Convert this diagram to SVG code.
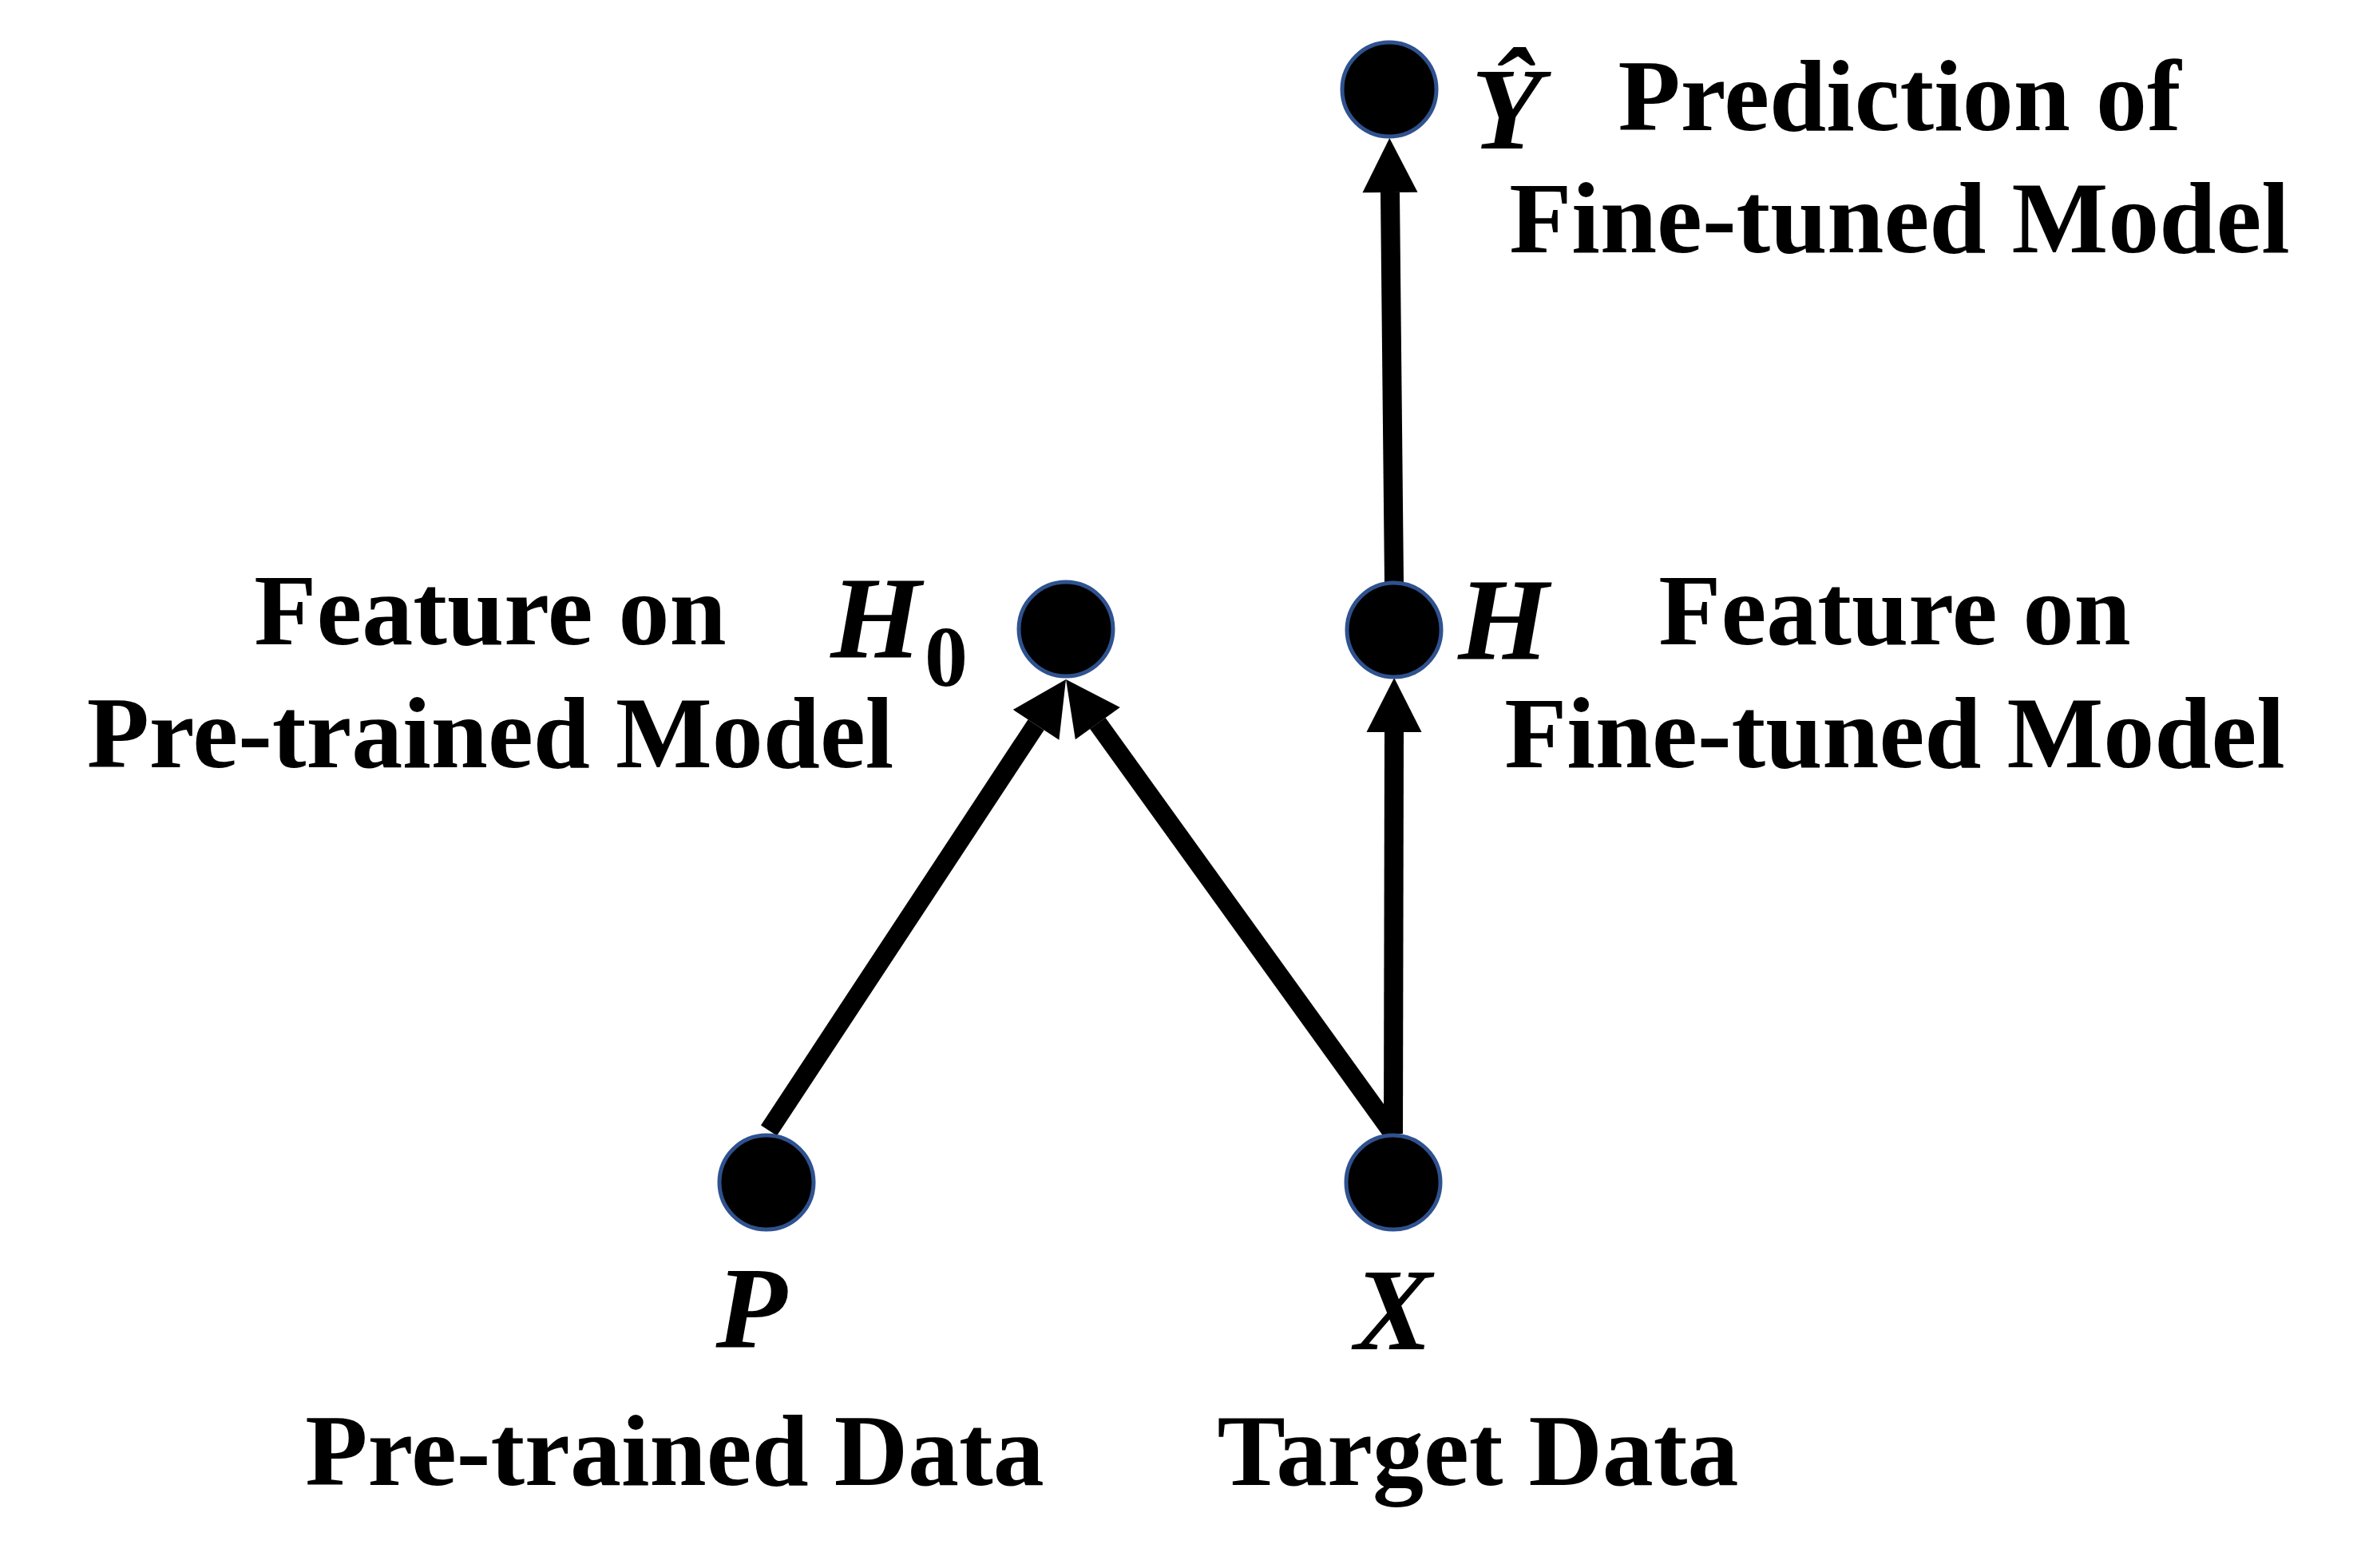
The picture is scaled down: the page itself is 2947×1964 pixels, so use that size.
<svg xmlns="http://www.w3.org/2000/svg" width="2947" height="1964" viewBox="0 0 2947 1964">
<style>
.node{fill:#000;stroke:#2F528F;stroke-width:5}
.lbl{font-family:"Liberation Serif","Times New Roman",serif;font-weight:bold;font-size:128px;fill:#000;text-anchor:middle}
.math{font-family:"Liberation Serif","Times New Roman",serif;font-weight:bold;font-style:italic;font-size:146px;fill:#000;text-anchor:middle}
.sub{font-family:"Liberation Serif","Times New Roman",serif;font-weight:bold;font-size:108px;fill:#000}
.edge{stroke:#000;stroke-width:24;fill:none;marker-end:url(#arr)}
</style>
<defs>
<marker id="arr" markerUnits="userSpaceOnUse" markerWidth="70" markerHeight="70" refX="0" refY="34.5" orient="auto" overflow="visible">
<path d="M0,0 L68,34.5 L0,69 Z" fill="#000"/>
</marker>
</defs>
<rect width="2947" height="1964" fill="#fff"/>
<g id="connectors">
<line class="edge" x1="1746" y1="730" x2="1741" y2="241"/>
<line class="edge" x1="1745" y1="1420" x2="1746" y2="917"/>
<line class="edge" x1="963" y1="1416" x2="1297.6" y2="907.8"/>
<line class="edge" x1="1745" y1="1420" x2="1374.8" y2="906.1"/>
</g>
<g id="node-yhat">
<circle class="node" cx="1740" cy="112" r="59"/>
<text class="math" x="1887" y="186">Ŷ</text>
<text class="lbl" x="2379" y="163">Prediction of</text>
<text class="lbl" x="2379" y="316">Fine-tuned Model</text>
</g>
<g id="node-h0">
<circle class="node" cx="1335" cy="788" r="59"/>
<text class="math" x="1097" y="823">H</text>
<text class="sub" x="1158" y="859">0</text>
<text class="lbl" x="614" y="807">Feature on</text>
<text class="lbl" x="614" y="961">Pre-trained Model</text>
</g>
<g id="node-h">
<circle class="node" cx="1746" cy="789" r="59"/>
<text class="math" x="1883" y="825">H</text>
<text class="lbl" x="2373" y="807">Feature on</text>
<text class="lbl" x="2373" y="961">Fine-tuned Model</text>
</g>
<g id="node-p">
<circle class="node" cx="960" cy="1481" r="59"/>
<text class="math" x="941" y="1688">P</text>
<text class="lbl" x="845" y="1860">Pre-trained Data</text>
</g>
<g id="node-x">
<circle class="node" cx="1745" cy="1481" r="59"/>
<text class="math" x="1745" y="1690">X</text>
<text class="lbl" x="1851" y="1860">Target Data</text>
</g>
</svg>
